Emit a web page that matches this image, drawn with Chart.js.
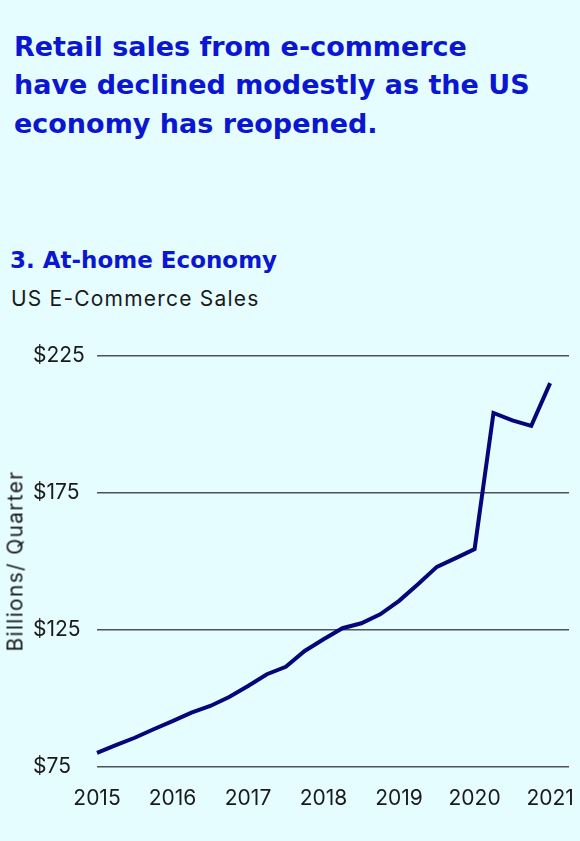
<!DOCTYPE html>
<html>
<head>
<meta charset="utf-8">
<script src="https://cdn.jsdelivr.net/npm/chart.js@4"></script>
<style>
  html, body { margin: 0; padding: 0; background: #e6fdff; }
  body { width: 580px; height: 841px; position: relative; overflow: hidden; font-family: Inter, "Noto Sans", sans-serif; }
  .headline { position: absolute; left: 14px; top: 28px; width: 566px; color: #0b16d0; font-family: "DejaVu Sans", sans-serif; font-weight: 700; font-size: 27px; line-height: 38.3px; white-space: nowrap; }
  .section { position: absolute; left: 10px; top: 247px; color: #0b16d0; font-family: "DejaVu Sans", sans-serif; font-weight: 700; font-size: 23px; white-space: nowrap; }
  .sub { position: absolute; left: 11px; top: 286px; color: #1a1a1a; font-size: 21px; letter-spacing: 1.2px; white-space: nowrap; }
  .ytitle { position: absolute; left: 15px; top: 561px; transform: translate(-50%, -50%) rotate(-90deg); color: #1a1a1a; font-size: 21px; letter-spacing: 1.3px; white-space: nowrap; }
  .wrap { position: absolute; left: 0; top: 330px; width: 580px; height: 511px; }
</style>
</head>
<body>
<div class="headline">Retail sales from e-commerce<br>have declined modestly as the US<br>economy has reopened.</div>
<div class="section">3. At-home Economy</div>
<div class="sub">US E-Commerce Sales</div>
<div class="wrap"><canvas id="chart" width="580" height="511"></canvas></div>
<div class="ytitle">Billions/ Quarter</div>
<script>
// quarterly labels, one spare slot at the end so the axis runs past the last point
const quarters = [
  '2015 Q1', '2015 Q2', '2015 Q3', '2015 Q4',
  '2016 Q1', '2016 Q2', '2016 Q3', '2016 Q4',
  '2017 Q1', '2017 Q2', '2017 Q3', '2017 Q4',
  '2018 Q1', '2018 Q2', '2018 Q3', '2018 Q4',
  '2019 Q1', '2019 Q2', '2019 Q3', '2019 Q4',
  '2020 Q1', '2020 Q2', '2020 Q3', '2020 Q4',
  '2021 Q1', '2021 Q2'
];

// US e-commerce sales, billions per quarter
const sales = [
  80.1, 82.9, 85.6, 88.7,
  91.7, 94.8, 97.2, 100.5,
  104.5, 108.8, 111.5, 117.3,
  121.6, 125.6, 127.4, 130.7,
  135.6, 141.7, 148.0, 151.2,
  154.5, 204.2, 201.5, 199.5,
  215.1
];

const yTicks = [75, 125, 175, 225];

const ctx = document.getElementById('chart');

new Chart(ctx, {
    type: 'line',
    data: {
        labels: quarters,
        datasets: [{
            label: 'US E-Commerce Sales',
            data: sales,
            borderColor: '#06067a',
            borderWidth: 4,
            pointRadius: 0,
            tension: 0,
            fill: false,
        }]
    },
    options: {
        responsive: false,
        animation: false,
        layout: { padding: { top: 26, right: 7, left: 33, bottom: 19 } },
        plugins: {
            legend: { display: false },
            tooltip: { enabled: false },
        },
        scales: {
            x: {
                grid: { display: false },
                border: { display: false },
                ticks: {
                    autoSkip: false,
                    maxRotation: 0,
                    padding: 11,
                    color: '#1a1a1a',
                    font: { family: 'Inter', size: 21 },
                    callback: function(value, index) {
                        const lbl = quarters[index];
                        return lbl.endsWith('Q1') ? lbl.slice(0, 4) : '';
                    }
                }
            },
            y: {
                min: yTicks[0],
                max: yTicks[yTicks.length - 1],
                afterBuildTicks: function(axis) {
                    axis.ticks = yTicks.map(v => ({ value: v }));
                },
                afterFit: function(axis) {
                    axis.width = 64;
                },
                grid: {
                    color: '#4d5356',
                    lineWidth: 1.5,
                    drawTicks: false,
                },
                border: { display: false },
                ticks: {
                    padding: 10,
                    crossAlign: 'far',
                    color: '#1a1a1a',
                    font: { family: 'Inter', size: 21 },
                    callback: v => '$' + v,
                }
            }
        }
    }
});
</script>
</body>
</html>
